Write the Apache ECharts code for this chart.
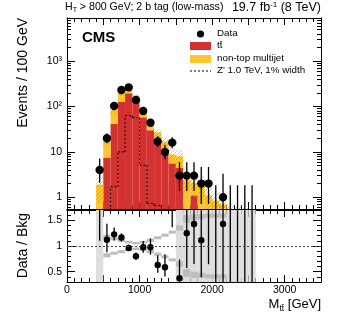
<!DOCTYPE html>
<html>
<head>
<meta charset="utf-8">
<script src="https://cdn.jsdelivr.net/npm/echarts@6/dist/echarts.min.js"></script>
<style>
  html, body { margin: 0; padding: 0; background: #fff; }
  #chart { width: 341px; height: 320px; }
</style>
</head>
<body>
<div id="chart"></div>
<script>
// bins de 100 GeV (borda inferior)
const binLo = [400, 500, 600, 700, 800, 900, 1000, 1100, 1200, 1300, 1400,
               1500, 1600, 1700, 1800, 1900, 2000, 2100, 2200, 2300, 2400, 2500];
const binWidth = 100;

// previsões empilhadas (eventos / 100 GeV)
const ttbar    = [0.3, 7.5, 42, 128, 196, 140, 58, 30, 18, 11, 5.6, 4.5, 0.5, 1.1, 0.5, 0.3, 0.3, 0.2, 0.1, 0.1, 0.1, 0.05];
const multijet = [1.6, 10.3, 42, 72, 80, 35, 24, 15, 9, 6, 3.2, 3.5, 1.9, 1.0, 1.3, 0.8, 0.55, 0.5, 0.35, 0.3, 0.3, 0.3];
const zprime   = [0, 0, 1.7, 10, 63, 57, 5.1, 0.73, 0.66, 0, 0, 0, 0, 0, 0, 0, 0, 0, 0, 0, 0, 0];
// incerteza relativa da soma (hachurado)
const bkgUnc   = [0.6, 0.22, 0.18, 0.14, 0.1, 0.08, 0.1, 0.14, 0.2, 0.26, 0.32, 0.4, 0.5, 0.55, 0.6, 0.6, 0.6, 0.6, 0.6, 0.6, 0.6, 0.6];

// dados observados e barras de erro (Poisson)
const dataCounts = [4, 20, 103, 233, 265, 140, 80, 44, 17, 10, 16, 3, 3, 3, 2, 2, 0, 1, 0, 0, 0, 0];
const dataErrLo  = [1.91, 4.4, 10.1, 15.3, 16.3, 11.8, 8.9, 6.6, 4.1, 3.1, 4.0, 1.63, 1.63, 1.63, 1.29, 1.29, 0, 0.83, 0, 0, 0, 0];
const dataErrHi  = [3.16, 5.5, 11.2, 16.3, 17.3, 12.8, 10.0, 7.7, 5.2, 4.3, 5.1, 2.92, 2.92, 2.92, 2.64, 2.64, 1.84, 2.3, 1.84, 1.84, 1.84, 1.84];

// painel de razão: faixa clara (colunas inteiras) e tiras escuras (borda interna/externa)
const ratioLight = [1.0, 0, 0, 0, 0, 0, 0, 0, 0, 0, 0, 1.0, 1.0, 1.0, 1.0, 1.0, 1.0, 1.0, 1.0, 1.0, 1.0, 1.0];
const stripIn    = [0, 0.14, 0.11, 0.08, 0.05, 0.03, 0.05, 0.08, 0.13, 0.18, 0.24, 0.3, 0.45, 0.5, 0.52, 0.55, 0.55, 0.55, 0, 0, 0, 0];
const stripOut   = [0, 0.22, 0.17, 0.14, 0.10, 0.08, 0.10, 0.14, 0.19, 0.24, 0.30, 0.4, 0.6, 0.62, 0.62, 0.63, 0.63, 0.63, 0, 0, 0, 0];

// rótulos dos eixos
const xTickLabels = [0, 1000, 2000, 3000];
const yTickLabels = [1, 10, 100, 1000];
const yTickText = ['1', '10', '10²', '10³'];
const yMinorTicks = [0.6, 0.7, 0.8, 0.9, 2, 3, 4, 5, 6, 7, 8, 9, 20, 30, 40, 50, 60, 70, 80, 90,
                     200, 300, 400, 500, 600, 700, 800, 900, 2000, 3000, 4000, 5000, 6000, 7000, 8000];
const rTickLabels = [0.5, 1, 1.5];
const rMinorTicks = [0.3, 0.4, 0.6, 0.7, 0.8, 0.9, 1.1, 1.2, 1.3, 1.4, 1.6, 1.7];

const Y_MIN = 0.55, Y_MAX = 9000, R_MIN = 0.3, R_MAX = 1.7;
const FONT = 'Liberation Sans, Arial, sans-serif';
const VERMELHO = '#d43131';
const AMARELO = '#fdc62f';

// padrão hachurado cinza
function criarHachura(cor) {
    const c = document.createElement('canvas');
    c.width = 4; c.height = 4;
    const g = c.getContext('2d');
    g.strokeStyle = cor;
    g.lineWidth = 0.8;
    g.beginPath();
    g.moveTo(0, 4); g.lineTo(4, 0);
    g.moveTo(-1, 1); g.lineTo(1, -1);
    g.moveTo(3, 5); g.lineTo(5, 3);
    g.stroke();
    return c;
}
const hachura = criarHachura('rgba(140,140,140,0.6)');

const total = binLo.map((b, i) => ttbar[i] + multijet[i]);

// monta as linhas do histograma empilhado
const linhasTt = binLo.map((b, i) => [b, 0, ttbar[i]]);
const linhasMj = binLo.map((b, i) => [b, ttbar[i], total[i]]);
const linhasUnc = binLo.map((b, i) => [b, total[i] * (1 - bkgUnc[i]), total[i] * (1 + bkgUnc[i])]);
const linhasZp = binLo.map((b, i) => [b, zprime[i], i > 0 ? zprime[i - 1] : 0]);
const linhasDados = binLo.map((b, i) => [b + binWidth / 2, dataCounts[i], dataCounts[i] - dataErrLo[i], dataCounts[i] + dataErrHi[i]]);
const linhasRazao = binLo.map((b, i) => [b + binWidth / 2, dataCounts[i] / total[i],
    (dataCounts[i] - dataErrLo[i]) / total[i], (dataCounts[i] + dataErrHi[i]) / total[i]]);
const linhasClaro = binLo.map((b, i) => [b, 1 - ratioLight[i], 1 + ratioLight[i]]);
const linhasTiraCima = binLo.map((b, i) => [b, 1 + stripIn[i], 1 + stripOut[i]]);
const linhasTiraBaixo = binLo.map((b, i) => [b, 1 - stripOut[i], 1 - stripIn[i]]);

function seguro(v, min) { return v > min ? v : min * 0.5; }

function serieRetangulo(nome, dados, estilo, xi, yi, min) {
    return {
        type: 'custom', name: nome, xAxisIndex: xi, yAxisIndex: yi, clip: true, silent: true,
        data: dados,
        renderItem: function (params, api) {
            const lo = api.value(0), y0 = seguro(api.value(1), min), y1 = api.value(2);
            if (!(y1 > y0)) return;
            const a = api.coord([lo, y1]);
            const b = api.coord([lo + binWidth, y0]);
            return { type: 'rect', shape: { x: a[0], y: a[1], width: b[0] - a[0], height: b[1] - a[1] }, style: estilo };
        }
    };
}

function seriePontos(nome, dados, xi, yi, min, raio) {
    return {
        type: 'custom', name: nome, xAxisIndex: xi, yAxisIndex: yi, clip: true, silent: true,
        data: dados,
        renderItem: function (params, api) {
            const x = api.value(0), v = api.value(1);
            const lo = seguro(api.value(2), min), hi = api.value(3);
            const p1 = api.coord([x, lo]), p2 = api.coord([x, hi]);
            const filhos = [{ type: 'line', shape: { x1: p1[0], y1: p1[1], x2: p2[0], y2: p2[1] }, style: { stroke: '#000', lineWidth: 1.3 } }];
            if (v > 0) {
                const c = api.coord([x, v]);
                filhos.push({ type: 'circle', shape: { cx: c[0], cy: c[1], r: raio }, style: { fill: '#000' } });
            }
            return { type: 'group', children: filhos };
        }
    };
}

const serieZprime = {
    type: 'custom', name: "Z' 1.0 TeV", xAxisIndex: 0, yAxisIndex: 0, clip: true, silent: true,
    data: linhasZp,
    renderItem: function (params, api) {
        const lo = api.value(0), v = seguro(api.value(1), Y_MIN), ant = seguro(api.value(2), Y_MIN);
        const estilo = { stroke: '#000', lineWidth: 1, lineDash: [2, 2] };
        const a = api.coord([lo, v]), b = api.coord([lo + binWidth, v]), c = api.coord([lo, ant]);
        const filhos = [];
        if (api.value(1) > 0) filhos.push({ type: 'line', shape: { x1: a[0], y1: a[1], x2: b[0], y2: b[1] }, style: estilo });
        if (api.value(1) > 0 || api.value(2) > 0) filhos.push({ type: 'line', shape: { x1: c[0], y1: c[1], x2: a[0], y2: a[1] }, style: estilo });
        return { type: 'group', children: filhos };
    }
};

// eixos no estilo ROOT: ticks para dentro nos quatro lados
const linhaEixo = { show: true, onZero: false, lineStyle: { color: '#000', width: 1 } };
function eixoX(grid, pos, rotulos) {
    return {
        type: 'value', gridIndex: grid, position: pos, min: 0, max: 3500, interval: 500,
        axisLine: linhaEixo,
        axisTick: { show: true, inside: true, length: 7, lineStyle: { color: '#000' } },
        minorTick: { show: true, splitNumber: 5, length: 4, lineStyle: { color: '#000' } },
        splitLine: { show: false },
        axisLabel: {
            show: rotulos, color: '#000', fontFamily: FONT, fontSize: 10.5, margin: 3,
            formatter: v => (xTickLabels.indexOf(v) >= 0 ? String(v) : '')
        }
    };
}
function eixoY(grid, pos, tipo, min, max, ticks, comprimento, rotulos, textos) {
    return {
        type: tipo, gridIndex: grid, position: pos, min: min, max: max,
        axisLine: linhaEixo,
        axisTick: { show: true, inside: true, length: comprimento, customValues: ticks, lineStyle: { color: '#000' } },
        splitLine: { show: false },
        axisLabel: rotulos ? {
            show: true, customValues: ticks, color: '#000', fontFamily: FONT, fontSize: 10.5, margin: 5,
            formatter: v => textos ? textos[rotulos.indexOf(v)] : String(v)
        } : { show: false }
    };
}

const chart = echarts.init(document.getElementById('chart'), null, { renderer: 'canvas' });

const option = {
    animation: false,
    grid: [
        { left: 67, top: 18, width: 254, height: 191 },
        { left: 67, top: 210, width: 254, height: 72 }
    ],
    xAxis: [
        eixoX(0, 'bottom', false),
        eixoX(0, 'top', false),
        eixoX(1, 'bottom', true),
        eixoX(1, 'top', false)
    ],
    yAxis: [
        eixoY(0, 'left', 'log', Y_MIN, Y_MAX, yTickLabels, 8, yTickLabels, yTickText),
        eixoY(0, 'left', 'log', Y_MIN, Y_MAX, yMinorTicks, 4, null),
        eixoY(0, 'right', 'log', Y_MIN, Y_MAX, yTickLabels, 8, null),
        eixoY(0, 'right', 'log', Y_MIN, Y_MAX, yMinorTicks, 4, null),
        eixoY(1, 'left', 'value', R_MIN, R_MAX, rTickLabels, 8, rTickLabels, null),
        eixoY(1, 'left', 'value', R_MIN, R_MAX, rMinorTicks, 4, null),
        eixoY(1, 'right', 'value', R_MIN, R_MAX, rTickLabels, 8, null),
        eixoY(1, 'right', 'value', R_MIN, R_MAX, rMinorTicks, 4, null)
    ],
    series: [
        serieRetangulo('tt', linhasTt, { fill: VERMELHO }, 0, 0, Y_MIN),
        serieRetangulo('multijet', linhasMj, { fill: AMARELO }, 0, 0, Y_MIN),
        serieRetangulo('unc', linhasUnc, { fill: { image: hachura, repeat: 'repeat' } }, 0, 0, Y_MIN),
        serieZprime,
        seriePontos('Data', linhasDados, 0, 0, Y_MIN, 4.2),
        serieRetangulo('bandaClara', linhasClaro, { fill: '#dedede' }, 2, 4, R_MIN),
        serieRetangulo('tiraCima', linhasTiraCima, { fill: '#bdbdbd' }, 2, 4, R_MIN),
        serieRetangulo('tiraBaixo', linhasTiraBaixo, { fill: '#bdbdbd' }, 2, 4, R_MIN),
        {
            type: 'line', xAxisIndex: 2, yAxisIndex: 4, data: [], silent: true,
            markLine: {
                silent: true, symbol: 'none', label: { show: false },
                lineStyle: { color: '#444', type: [2, 2], width: 1 },
                data: [{ yAxis: 1 }]
            }
        },
        seriePontos('Razao', linhasRazao, 2, 4, R_MIN, 3.2)
    ],
    graphic: [
        {
            type: 'text', left: 65, top: 2,
            style: {
                text: '{n|H}{s|T}{n| > 800 GeV; 2 b tag (low-mass)}',
                rich: { n: { fontSize: 10.6, fontFamily: FONT, fill: '#000' }, s: { fontSize: 7, fontFamily: FONT, fill: '#000', padding: [6, 0, 0, 0] } }
            }
        },
        {
            type: 'text', right: 20, top: 1,
            style: {
                text: '{n|19.7 fb}{s|-1}{n| (8 TeV)}',
                rich: { n: { fontSize: 12.5, fontFamily: FONT, fill: '#000' }, s: { fontSize: 8, fontFamily: FONT, fill: '#000', padding: [0, 0, 6, 0] } }
            }
        },
        { type: 'text', left: 82, top: 30, style: { text: 'CMS', font: 'bold 15px ' + FONT, fill: '#000' } },
        // legenda
        { type: 'circle', shape: { cx: 200.5, cy: 34, r: 3.6 }, style: { fill: '#000' } },
        { type: 'text', left: 217, top: 28.5, style: { text: 'Data', font: '9.8px ' + FONT, fill: '#000' } },
        { type: 'rect', shape: { x: 190, y: 42, width: 21, height: 8 }, style: { fill: VERMELHO } },
        { type: 'text', left: 217, top: 40.5, style: { text: 'tt̄', font: '9.8px ' + FONT, fill: '#000' } },
        { type: 'rect', shape: { x: 190, y: 55, width: 21, height: 8 }, style: { fill: AMARELO } },
        { type: 'text', left: 217, top: 53, style: { text: 'non-top multijet', font: '9.8px ' + FONT, fill: '#000' } },
        { type: 'line', shape: { x1: 190, y1: 71, x2: 211, y2: 71 }, style: { stroke: '#000', lineWidth: 1, lineDash: [2, 2] } },
        { type: 'text', left: 217, top: 65.5, style: { text: "Z' 1.0 TeV, 1% width", font: '9.8px ' + FONT, fill: '#000' } },
        // títulos dos eixos
        { type: 'text', x: 16, y: 18, rotation: Math.PI / 2, style: { text: 'Events / 100 GeV', font: '14px ' + FONT, fill: '#000', align: 'right', verticalAlign: 'top' } },
        { type: 'text', x: 16, y: 213, rotation: Math.PI / 2, style: { text: 'Data / Bkg', font: '14px ' + FONT, fill: '#000', align: 'right', verticalAlign: 'top' } },
        {
            type: 'text', right: 20, top: 298,
            style: {
                text: '{n|M}{s|tt̄}{n| [GeV]}',
                rich: { n: { fontSize: 13, fontFamily: FONT, fill: '#000' }, s: { fontSize: 8.5, fontFamily: FONT, fill: '#000', padding: [8, 0, 0, 0] } }
            }
        }
    ]
};

chart.setOption(option);
</script>
</body>
</html>
